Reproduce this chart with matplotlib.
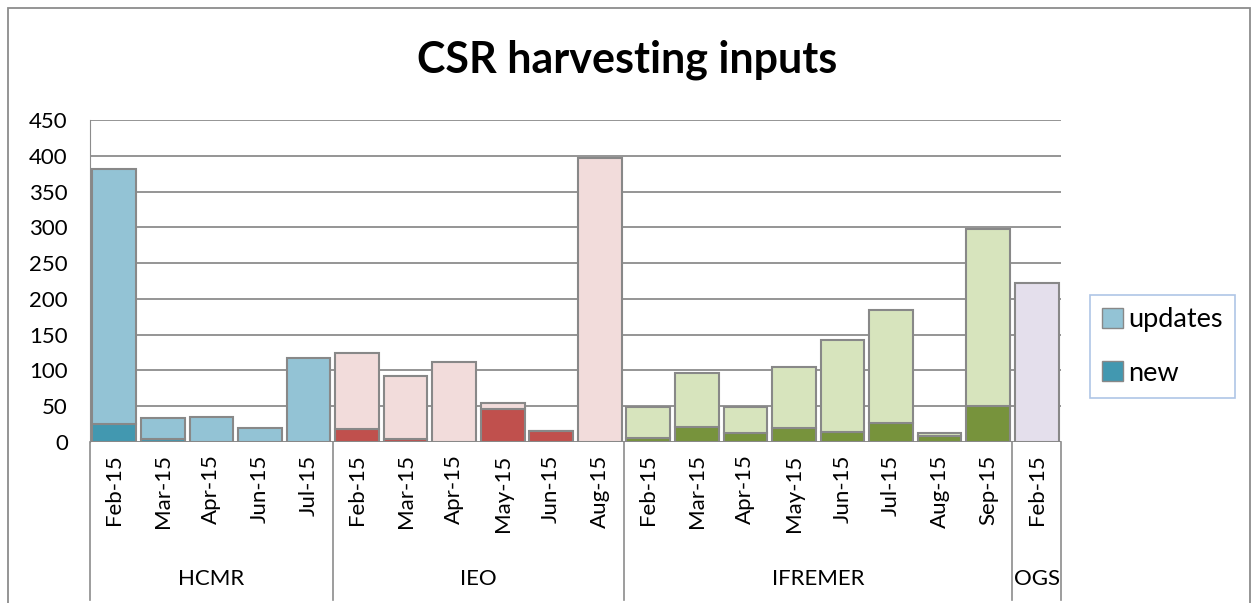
import matplotlib

matplotlib.use("Agg")
import matplotlib.pyplot as plt
from matplotlib.patches import Rectangle, Patch
import numpy as np

plt.rcParams["font.family"] = ["Lato", "DejaVu Sans"]

# --------------------------------------------------------------------------- #
# Data
# --------------------------------------------------------------------------- #
groups = ["HCMR", "IEO", "IFREMER", "OGS"]
months = [
    ["Feb-15", "Mar-15", "Apr-15", "Jun-15", "Jul-15"],
    ["Feb-15", "Mar-15", "Apr-15", "May-15", "Jun-15", "Aug-15"],
    ["Feb-15", "Mar-15", "Apr-15", "May-15", "Jun-15", "Jul-15", "Aug-15", "Sep-15"],
    ["Feb-15"],
]
new_vals = [
    [25, 4, 0, 0, 0],
    [18, 4, 0, 46, 15, 0],
    [6, 21, 12, 19, 14, 26, 8, 51],
    [0],
]
update_vals = [
    [356, 30, 35, 19, 118],
    [106, 88, 112, 9, 0, 397],
    [43, 75, 37, 86, 129, 158, 5, 246],
    [222],
]
update_colors = ["#93C3D5", "#F2DCDB", "#D7E4BD", "#E4DFEC"]
new_colors = ["#4298B0", "#C0504D", "#77933C", "#8064A2"]

EDGE = "#888888"
GRID = "#8C8C8C"

fig = plt.figure(figsize=(12.54, 6.03), dpi=100)
W, H = 1254, 603
ax = fig.add_axes([90 / W, 1 - 442 / H, (1061 - 90) / W, 322 / H])

labels = []
bounds = [0]
pos = 0
for g, mlist in enumerate(months):
    n = len(mlist)
    x = np.arange(pos, pos + n)
    ax.bar(x, new_vals[g], width=0.9, color=new_colors[g], edgecolor=EDGE,
           linewidth=1.5, zorder=3)
    ax.bar(x, update_vals[g], bottom=new_vals[g], width=0.9,
           color=update_colors[g], edgecolor=EDGE, linewidth=1.5, zorder=3)
    labels += mlist
    pos += n
    bounds.append(pos)

ax.set_xlim(-0.5, pos - 0.5)
ax.set_ylim(0, 450)
ax.set_yticks(np.arange(0, 451, 50))
ax.yaxis.grid(True, color=GRID, linewidth=1.3, zorder=0)
ax.set_axisbelow(True)
for s in ["top", "right", "bottom"]:
    ax.spines[s].set_visible(False)
ax.spines["left"].set_color(GRID)
ax.axhline(0, color=GRID, linewidth=1.3, zorder=2)
ax.tick_params(axis="y", length=0, labelsize=16, pad=16)
ax.set_xticks(np.arange(pos))
ax.set_xticklabels(labels, rotation=90, fontsize=16)
ax.tick_params(axis="x", length=0, pad=9)

# category group separators and labels
for b in bounds:
    ax.plot([b - 0.5, b - 0.5], [0, -0.49], transform=ax.get_xaxis_transform(),
            color=GRID, linewidth=1.2, clip_on=False)
for g, name in enumerate(groups):
    mid = (bounds[g] + bounds[g + 1] - 1) / 2
    ax.text(mid, -0.425, name, transform=ax.get_xaxis_transform(),
            ha="center", va="center", fontsize=16)

fig.text(0.5, 1 - 60 / H, "CSR harvesting inputs", ha="center", va="center",
         fontsize=31, fontweight="bold")

# legend
handles = [Patch(facecolor=update_colors[0], edgecolor=EDGE),
           Patch(facecolor=new_colors[0], edgecolor=EDGE)]
leg = fig.legend(handles, ["updates", "new"], loc="upper left",
                 bbox_to_anchor=(1090 / W, 1 - 295 / H), fontsize=19.5,
                 frameon=True, fancybox=False, handlelength=0.75,
                 handleheight=0.75, handletextpad=0.2, labelspacing=1.05,
                 borderpad=0.45, borderaxespad=0)
leg.get_frame().set_edgecolor("#9BB7E0")
leg.get_frame().set_linewidth(1.2)

# outer chart border
fig.patches.append(Rectangle((8 / W, -0.1), (1250 - 8) / W, 1.1 - 8 / H,
                             transform=fig.transFigure, fill=False,
                             edgecolor="#8C8C8C", linewidth=1.3))

fig.savefig("out.png", dpi=100)
